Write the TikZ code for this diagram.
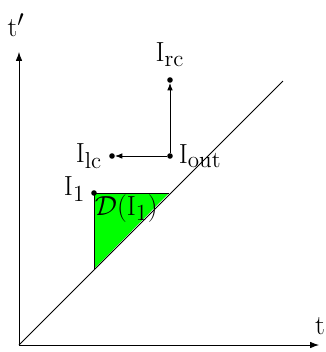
\documentclass[tikz,border=0pt]{standalone}
\usetikzlibrary{arrows.meta}
\DeclareMathSizes{17}{17}{14}{11}
\begin{document}
\begin{tikzpicture}[x=0.625pt,y=-0.625pt,
  axis/.style={line width=0.5pt,-{Latex[length=5.5pt,width=4pt]}},
  conn/.style={line width=0.5pt,-{Latex[length=4.5pt,width=3.5pt]}},
  pt/.style={circle,fill=black,inner sep=0pt,minimum size=3.5pt},
  lbl/.style={inner sep=1pt,font=\fontsize{17}{20}\selectfont}]
\useasboundingbox (0,0) rectangle (326,352);
\coordinate (O) at (19,345);
\coordinate (tx) at (319,345);
\coordinate (ty) at (19,52);
\coordinate (diagend) at (283,81);
\coordinate (Dright) at (169,193);
\coordinate (Dbot) at (94,269);
% triangle
\filldraw[fill={rgb,255:red,0;green,255;blue,0},draw=black,line width=0.5pt] (Dbot) -- (94,193) -- (Dright);
% axes
\draw[axis] (O) -- (tx);
\draw[axis] (O) -- (ty);
\draw[line width=0.5pt] (O) -- (diagend);
% points
\node[pt] (I1) at (94,193) {};
\node[pt] (Iout) at (170,156) {};
\node[pt] (Irc) at (170,80) {};
\node[pt] (Ilc) at (112,156) {};
\draw[conn] (Iout) -- (Irc);
\draw[conn] (Iout) -- (Ilc);
% labels
\node[lbl] (tlab) at (320,326) {$\mathrm{t}$};
\node[lbl] (tplab) at (16,25) {$\mathrm{t}'$};
\node[lbl,anchor=south] (Irclab) at (170,68) {$\mathrm{I}_{\mathrm{rc}}$};
\node[lbl,anchor=east] (Ilclab) at (104,156) {$\mathrm{I}_{\mathrm{lc}}$};
\node[lbl,anchor=west] (Ioutlab) at (177,156) {$\mathrm{I}_{\mathrm{out}}$};
\node[lbl,anchor=east] (I1lab) at (87,189) {$\mathrm{I}_1$};
\node[lbl,anchor=north west] (Dlab) at (93,193) {$\mathcal{D}(\mathrm{I}_1)$};
\end{tikzpicture}
\end{document}
